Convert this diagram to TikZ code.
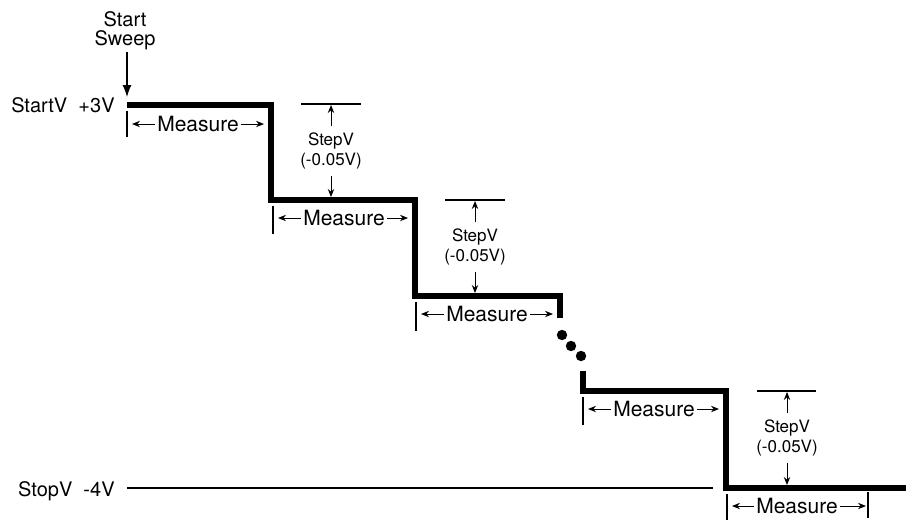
\documentclass[tikz,border=0pt]{standalone}
\usepackage{fontspec}
\setmainfont{TeX Gyre Heros}
\usetikzlibrary{arrows.meta, calc}
\tikzset{
  stair/.style={line width=2.7pt, line join=miter, line cap=butt},
  guide/.style={line width=0.6pt},
  arr/.style={-{Stealth[length=4pt, width=3.2pt]}, line width=0.5pt},
  arrs/.style={-{Latex[length=6pt, width=4.5pt]}, line width=0.6pt},
  meas/.style={font=\fontsize{10.5}{12}\selectfont, inner sep=1pt},
  stepl/.style={font=\fontsize{8.5}{10}\selectfont, align=center, inner sep=2pt},
  lbl/.style={font=\fontsize{10}{10}\selectfont, inner sep=0pt},
  sdot/.style={fill=black},
}
\begin{document}
\begin{tikzpicture}[x=0.5pt, y=-0.5pt]
        \useasboundingbox (0,0) rectangle (906,521);
        % staircase corners
        \coordinate (p0) at (127,105); \coordinate (p1) at (271,105);
        \coordinate (p2) at (271,200); \coordinate (p3) at (415,200);
        \coordinate (p4) at (415,296); \coordinate (p5) at (560,296);
        \coordinate (p6) at (560,318);
        \coordinate (q0) at (583,371); \coordinate (q1) at (583,391);
        \coordinate (q2) at (726,391); \coordinate (q3) at (726,488);
        \coordinate (q4) at (906,488);
        \draw[stair] (p0) -- (p1) -- (p2) -- (p3) -- (p4) -- (p5) -- (p6);
        \draw[stair] (q0) -- (q1) -- (q2) -- (q3) -- (q4);
        \fill[sdot] (562,335) circle[radius=2.6pt];
        \fill[sdot] (571,346) circle[radius=2.6pt];
        \fill[sdot] (581,356) circle[radius=2.6pt];
        % start / stop labels
        \node[lbl, align=center, anchor=south, inner sep=1pt] (sweep) at (125,52) {Start\\[-0.5pt]Sweep};
        \draw[arrs, shorten >=4pt] (sweep.south -| p0) -- (p0);
        \node[lbl, anchor=base east] (startv) at (115,112) {StartV~~+3V};
        \node[lbl, anchor=base east] (stopv) at (115,496) {StopV~~-4V};
        \coordinate (stop0) at (127,488); \coordinate (stop1) at (713,488);
        \draw[guide] (stop0) -- (stop1);
        % measure intervals
        \coordinate (t1a) at (127,111); \coordinate (t1b) at (127,137);
        \coordinate (t2a) at (273,206); \coordinate (t2b) at (273,234);
        \coordinate (t3a) at (416,302); \coordinate (t3b) at (416,331);
        \coordinate (t4a) at (583,397); \coordinate (t4b) at (583,425);
        \coordinate (t5a) at (727,494); \coordinate (t5b) at (727,520);
        \coordinate (t6a) at (868,492); \coordinate (t6b) at (868,518);
        \foreach \t in {1,...,6} \draw[guide] (t\t a) -- (t\t b);
        \node[meas] (m1) at (198,124) {Measure};
        \node[meas] (m2) at (344,218) {Measure};
        \node[meas] (m3) at (487,314) {Measure};
        \node[meas] (m4) at (654,409) {Measure};
        \node[meas] (m5) at (797,506) {Measure};
        \draw[arr, shorten >=2.5pt] (m1.west) -- (m1.west -| t1a);
        \draw[arr, shorten >=3.5pt] (m1.east) -- (m1.east -| p1);
        \draw[arr, shorten >=2.5pt] (m2.west) -- (m2.west -| t2a);
        \draw[arr, shorten >=3.5pt] (m2.east) -- (m2.east -| p3);
        \draw[arr, shorten >=2.5pt] (m3.west) -- (m3.west -| t3a);
        \draw[arr, shorten >=3.5pt] (m3.east) -- (m3.east -| p5);
        \draw[arr, shorten >=2.5pt] (m4.west) -- (m4.west -| t4a);
        \draw[arr, shorten >=3.5pt] (m4.east) -- (m4.east -| q2);
        \draw[arr, shorten >=2.5pt] (m5.west) -- (m5.west -| t5a);
        \draw[arr, shorten >=1pt] (m5.east) -- (m5.east -| t6a);
        % step size marks
        \coordinate (h1a) at (301,104); \coordinate (h1b) at (361,104);
        \coordinate (h2a) at (445,200); \coordinate (h2b) at (505,200);
        \coordinate (h3a) at (757,391); \coordinate (h3b) at (816,391);
        \draw[guide] (h1a) -- (h1b); \draw[guide] (h2a) -- (h2b); \draw[guide] (h3a) -- (h3b);
        \node[stepl] (s1) at (331,151) {StepV\\(-0.05V)};
        \node[stepl] (s2) at (475,247) {StepV\\(-0.05V)};
        \node[stepl] (s3) at (787,438) {StepV\\(-0.05V)};
        \draw[arr, shorten <=1pt, shorten >=0.5pt] (s1.north) -- (s1.north |- h1a);
        \draw[arr, shorten <=1pt, shorten >=1.5pt] (s1.south) -- (s1.south |- p2);
        \draw[arr, shorten <=1pt, shorten >=0.5pt] (s2.north) -- (s2.north |- h2a);
        \draw[arr, shorten <=1pt, shorten >=1.5pt] (s2.south) -- (s2.south |- p4);
        \draw[arr, shorten <=1pt, shorten >=0.5pt] (s3.north) -- (s3.north |- h3a);
        \draw[arr, shorten <=1pt, shorten >=1.5pt] (s3.south) -- (s3.south |- q3);
      \end{tikzpicture}
\end{document}
